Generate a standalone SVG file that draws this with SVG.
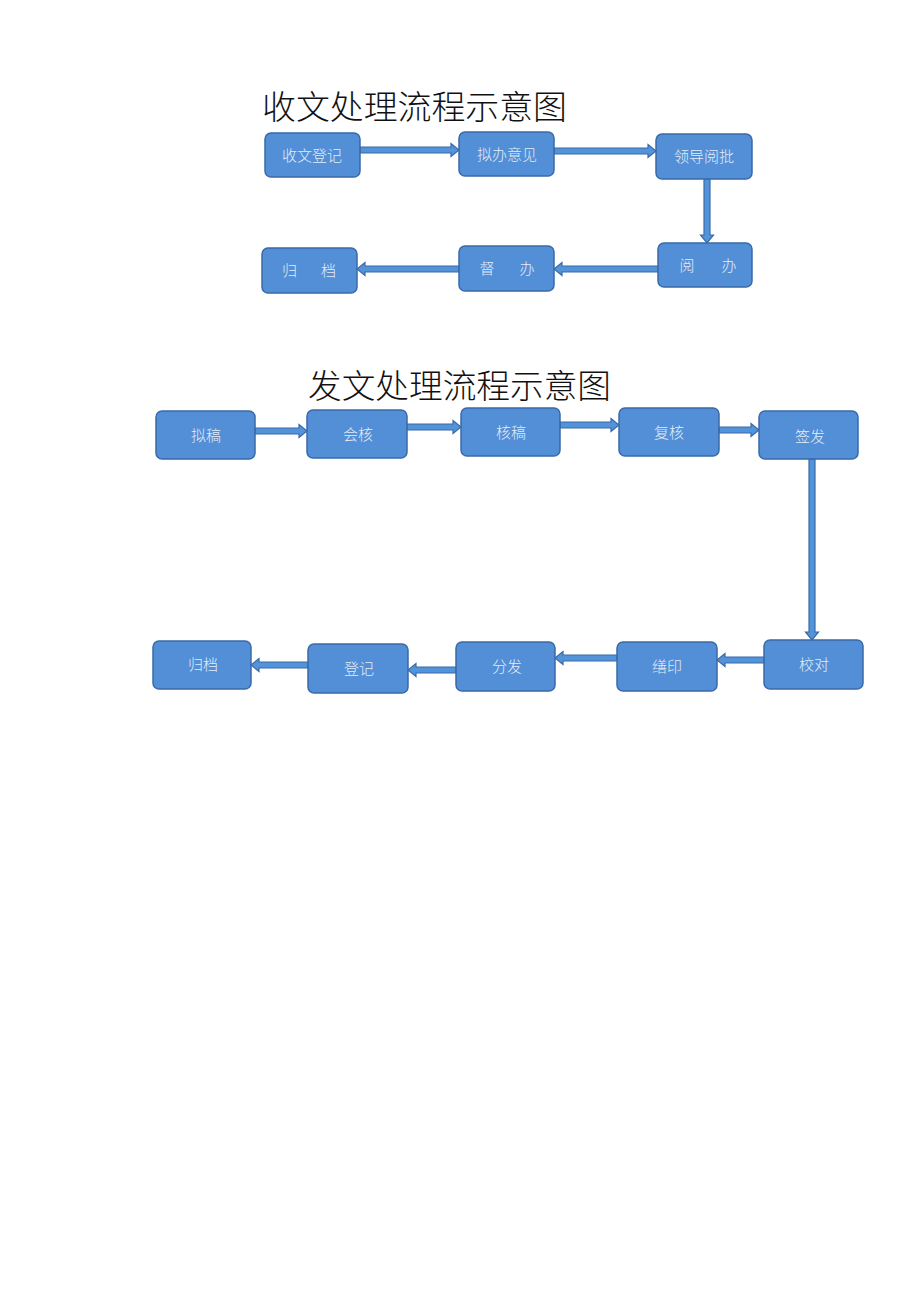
<svg xmlns="http://www.w3.org/2000/svg" width="920" height="1302" viewBox="0 0 920 1302">
<style>
.title{font-family:"Noto Sans CJK SC","Noto Sans CJK JP",sans-serif;font-size:33px;font-weight:300;fill:#111;}
.box{fill:#528fd6;stroke:#3a6aa8;stroke-width:1.5;}
.lbl{font-family:"Noto Sans CJK SC","Noto Sans CJK JP",sans-serif;font-size:15px;font-weight:300;fill:#e4edf8;text-anchor:middle;}
.arr{fill:#5393da;stroke:#3a6aa8;stroke-width:1.2;stroke-linejoin:miter;}
</style>
<rect width="920" height="1302" fill="#ffffff"/>
<g id="title1"><text class="title" x="262" y="119" textLength="305" lengthAdjust="spacingAndGlyphs">收文处理流程示意图</text></g>
<g id="title2"><text class="title" x="308" y="398" textLength="303" lengthAdjust="spacingAndGlyphs">发文处理流程示意图</text></g>

<g id="connectors">
<!-- section 1 -->
<polygon class="arr" points="360,147 451,147 451,143.5 459,150 451,156.5 451,153 360,153"/>
<polygon class="arr" points="554,148 648,148 648,144.5 656,151 648,157.5 648,154 554,154"/>
<polygon class="arr" points="704,179 704,235 700.5,235 707,243 713.5,235 710,235 710,179"/>
<polygon class="arr" points="658,266 562,266 562,262.5 554,269 562,275.5 562,272 658,272"/>
<polygon class="arr" points="459,266 365,266 365,262.5 357,269 365,275.5 365,272 459,272"/>
<!-- section 2 -->
<polygon class="arr" points="255,428 299,428 299,424.5 307,431 299,437.5 299,434 255,434"/>
<polygon class="arr" points="407,424 453,424 453,420.5 461,427 453,433.5 453,430 407,430"/>
<polygon class="arr" points="560,422 611,422 611,418.5 619,425 611,431.5 611,428 560,428"/>
<polygon class="arr" points="719,427 751,427 751,423.5 759,430 751,436.5 751,433 719,433"/>
<polygon class="arr" points="809,459 809,632 805.5,632 812,640 818.5,632 815,632 815,459"/>
<polygon class="arr" points="764,657 725,657 725,653.5 717,660 725,666.5 725,663 764,663"/>
<polygon class="arr" points="617,655 563,655 563,651.5 555,658 563,664.5 563,661 617,661"/>
<polygon class="arr" points="456,667 416,667 416,663.5 408,670 416,676.5 416,673 456,673"/>
<polygon class="arr" points="308,662 259,662 259,658.5 251,665 259,671.5 259,668 308,668"/>
</g>

<g id="n-shouwendengji"><rect class="box" x="265" y="133" width="95" height="44" rx="6"/><text class="lbl" x="312" y="161">收文登记</text></g>
<g id="n-nibanyijian"><rect class="box" x="459" y="132" width="95" height="44" rx="6"/><text class="lbl" x="507" y="160">拟办意见</text></g>
<g id="n-lingdaoyuepi"><rect class="box" x="656" y="134" width="96" height="45" rx="6"/><text class="lbl" x="704" y="162">领导阅批</text></g>
<g id="n-yueban"><rect class="box" x="658" y="243" width="94" height="44" rx="6"/><text class="lbl" x="708" y="271" textLength="57" lengthAdjust="spacing">阅　办</text></g>
<g id="n-duban"><rect class="box" x="459" y="246" width="95" height="45" rx="6"/><text class="lbl" x="507" y="274" textLength="55" lengthAdjust="spacing">督　办</text></g>
<g id="n-guidang1"><rect class="box" x="262" y="248" width="95" height="45" rx="6"/><text class="lbl" x="309" y="276" textLength="54" lengthAdjust="spacing">归　档</text></g>

<g id="n-nigao"><rect class="box" x="156" y="411" width="99" height="48" rx="6"/><text class="lbl" x="206" y="441">拟稿</text></g>
<g id="n-huihe"><rect class="box" x="307" y="410" width="100" height="48" rx="6"/><text class="lbl" x="358" y="440">会核</text></g>
<g id="n-hegao"><rect class="box" x="461" y="408" width="99" height="48" rx="6"/><text class="lbl" x="511" y="438">核稿</text></g>
<g id="n-fuhe"><rect class="box" x="619" y="408" width="100" height="48" rx="6"/><text class="lbl" x="669" y="438">复核</text></g>
<g id="n-qianfa"><rect class="box" x="759" y="411" width="99" height="48" rx="6"/><text class="lbl" x="810" y="442">签发</text></g>
<g id="n-jiaodui"><rect class="box" x="764" y="640" width="99" height="49" rx="6"/><text class="lbl" x="814" y="670">校对</text></g>
<g id="n-shanyin"><rect class="box" x="617" y="642" width="100" height="49" rx="6"/><text class="lbl" x="667" y="672">缮印</text></g>
<g id="n-fenfa"><rect class="box" x="456" y="642" width="99" height="49" rx="6"/><text class="lbl" x="507" y="672">分发</text></g>
<g id="n-dengji"><rect class="box" x="308" y="644" width="100" height="49" rx="6"/><text class="lbl" x="359" y="674">登记</text></g>
<g id="n-guidang2"><rect class="box" x="153" y="641" width="98" height="48" rx="6"/><text class="lbl" x="203" y="670">归档</text></g>
</svg>
